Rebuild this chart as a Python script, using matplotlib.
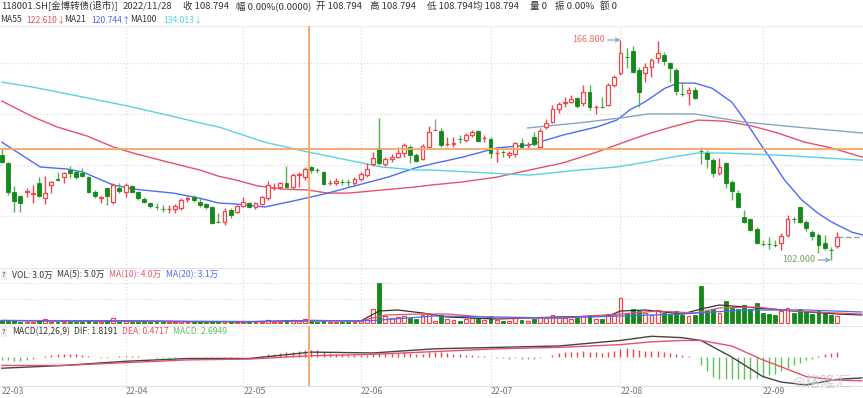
import matplotlib.pyplot as plt
import numpy as np

plt.rcParams['font.family'] = ['Noto Sans CJK SC', 'DejaVu Sans']

# ---- candle data ----
opens = [132.9, 130.6, 122.0, 120.8, 122.0, 121.4, 124.7, 120.2, 124.1, 125.8,
         126.4, 128.5, 127.9, 127.6, 126.4, 122.0, 120.2, 123.2, 119.1, 123.2,
         122.0, 123.8, 122.0, 119.9, 118.8, 117.7, 117.1, 116.9, 117.0, 117.3,
         119.9, 120.5, 119.1, 118.5, 117.6, 113.3, 113.2, 116.7, 116.1, 117.9,
         118.8, 117.6, 118.5, 120.2, 123.1, 123.5, 124.7, 123.5, 127.0, 126.4,
         129.4, 128.6, 127.9, 124.6, 124.7, 125.1, 125.1, 124.7, 125.8, 127.0,
         130.3, 135.0, 130.3, 131.7, 132.3, 133.5, 135.3, 132.9, 131.7, 135.3,
         140.3, 140.0, 136.1, 136.2, 137.7, 137.3, 138.8, 140.0, 137.8, 137.6,
         133.4, 133.9, 132.9, 133.2, 136.5, 135.8, 138.2, 135.3, 141.2, 142.6,
         146.5, 148.2, 148.5, 149.7, 148.2, 151.5, 147.0, 147.2, 147.6, 153.5,
         157.1, 161.9, 163.6, 158.0, 157.1, 158.8, 161.5, 162.4, 160.0, 158.0,
         151.0, 151.2, 152.1, 134.2, 133.5, 131.4, 127.6, 130.6, 125.0, 121.7,
         114.7, 114.1, 111.1, 106.8, 106.8, 106.5, 107.0, 109.4, 114.2, 117.6,
         113.2, 110.2, 109.4, 107.0, 105.0, 106.1]
highs = [135.0, 130.9, 123.8, 121.1, 123.2, 124.1, 126.4, 126.7, 125.3, 127.9,
         127.9, 129.7, 128.5, 129.1, 126.7, 122.6, 120.8, 123.5, 124.7, 124.7,
         124.7, 124.1, 122.3, 120.5, 119.1, 118.8, 118.2, 118.2, 118.5, 120.2,
         120.8, 121.1, 120.2, 118.8, 117.9, 115.8, 117.3, 117.3, 118.2, 120.5,
         119.1, 119.1, 120.8, 125.3, 124.7, 125.0, 129.7, 127.6, 127.9, 129.4,
         129.7, 129.1, 128.2, 125.6, 126.1, 125.8, 125.8, 126.4, 127.9, 130.6,
         133.8, 143.8, 132.3, 133.2, 135.3, 136.5, 135.9, 133.5, 136.2, 141.5,
         143.5, 140.9, 138.2, 138.2, 138.8, 139.4, 140.3, 140.3, 138.8, 138.2,
         135.0, 134.4, 134.1, 136.7, 137.9, 136.7, 139.7, 140.9, 143.5, 147.6,
         148.5, 150.0, 150.6, 150.0, 153.5, 153.5, 147.6, 150.0, 154.1, 156.5,
         166.8, 164.4, 165.0, 158.8, 160.0, 161.5, 166.5, 163.3, 160.3, 158.6,
         154.4, 152.9, 152.9, 135.3, 134.4, 132.0, 132.0, 130.9, 125.6, 122.6,
         116.7, 114.4, 111.7, 107.9, 108.8, 107.9, 109.9, 115.2, 114.7, 117.6,
         113.8, 110.8, 109.9, 109.4, 105.8, 110.2]
lows = [130.6, 121.1, 116.1, 116.1, 120.5, 118.8, 120.5, 118.5, 121.7, 125.3,
        124.7, 126.1, 125.8, 126.4, 121.7, 120.2, 118.8, 118.2, 118.5, 121.7,
        120.5, 121.7, 119.7, 118.8, 117.3, 116.7, 116.1, 115.8, 115.8, 116.7,
        119.1, 119.1, 117.6, 117.0, 112.6, 112.9, 112.3, 114.4, 115.8, 117.6,
        117.3, 117.0, 118.2, 119.7, 122.6, 122.9, 123.2, 123.2, 123.5, 125.6,
        127.6, 127.6, 124.1, 124.1, 124.1, 124.1, 123.8, 124.1, 125.3, 126.4,
        129.7, 130.0, 129.7, 130.9, 132.0, 132.3, 130.6, 130.9, 131.4, 135.0,
        140.3, 135.3, 135.6, 135.3, 136.5, 136.7, 138.2, 136.7, 136.7, 132.0,
        130.9, 132.3, 132.0, 132.3, 135.0, 135.0, 135.6, 135.0, 140.6, 142.4,
        145.3, 147.1, 148.2, 146.8, 147.4, 146.2, 145.0, 146.8, 147.4, 152.9,
        156.5, 158.6, 157.1, 147.1, 154.4, 155.9, 160.0, 159.4, 154.4, 150.6,
        150.3, 147.6, 149.4, 130.3, 129.1, 126.4, 127.0, 123.2, 119.7, 117.3,
        112.9, 110.5, 106.7, 106.1, 105.2, 105.8, 104.9, 108.8, 112.9, 112.9,
        110.5, 107.9, 104.0, 104.9, 102.0, 105.5]
closes = [130.9, 122.0, 119.4, 118.8, 122.3, 121.7, 120.8, 121.7, 125.0, 125.6,
          127.6, 127.6, 126.4, 126.7, 122.0, 120.8, 120.5, 120.8, 124.1, 122.3,
          124.1, 122.0, 120.2, 119.1, 117.9, 117.5, 116.9, 117.1, 117.9, 119.7,
          120.2, 119.7, 118.2, 117.6, 112.9, 113.1, 116.4, 115.2, 117.9, 119.1,
          117.6, 118.8, 120.5, 124.1, 123.3, 124.7, 123.5, 127.0, 127.3, 128.8,
          128.5, 128.4, 124.4, 124.8, 125.3, 124.9, 124.9, 125.8, 127.3, 128.8,
          132.0, 130.6, 131.7, 132.3, 133.5, 135.9, 132.9, 131.1, 135.6, 139.7,
          140.3, 135.9, 136.3, 136.5, 137.5, 138.8, 139.7, 137.0, 138.0, 133.5,
          133.6, 133.7, 133.5, 136.5, 135.3, 136.0, 136.2, 140.0, 142.4, 146.5,
          147.9, 148.5, 149.4, 147.4, 151.5, 147.1, 147.2, 147.0, 153.5, 155.9,
          163.0, 161.7, 157.4, 151.5, 158.8, 160.9, 163.0, 160.6, 158.6, 151.8,
          150.8, 152.1, 149.7, 134.0, 131.7, 127.6, 129.4, 124.7, 122.3, 117.6,
          113.2, 110.8, 107.0, 106.6, 106.6, 106.3, 109.1, 114.1, 114.0, 113.2,
          111.4, 109.1, 106.4, 105.5, 104.8, 108.794]

# volume, in 万
volumes = [3, 2, 2, 1.5, 1, 1, 3, 4, 1.5, 1, 1.5, 1.5, 1, 1.5, 2, 1.5, 1, 2, 5, 1.5,
           2, 1.5, 1.5, 1, 1, 1, 1, 1, 1, 2, 1, 1, 1, 1, 2.5, 1, 2, 1, 1, 1.5,
           1, 1, 1.5, 3, 1.5, 1.5, 3, 3, 2, 4, 2.5, 1.5, 3, 1, 1, 1, 1, 1.5, 2, 3,
           14, 40, 7, 5, 6, 7, 5, 4, 8, 9, 2, 8, 4, 3, 2, 4, 5, 5, 3, 7,
           3, 2, 2, 5, 3, 2, 4, 6, 5, 8, 6, 5, 4, 5, 7, 8, 4, 4, 9, 8,
           25, 10, 14, 12, 10, 8, 13, 10, 9, 12, 8, 7, 8, 37, 12, 14, 10, 22, 15, 14,
           18, 14, 20, 10, 9, 8, 12, 15, 10, 14, 11, 9, 12, 10, 8, 7]

# moving averages read at sample positions (candle index, value)
ma21_x = [0, 6.2, 10.5, 13.1, 18, 21.2, 27.7, 32, 35, 37.7, 42.5, 47.9, 52.7, 57.6, 62.4,
          66.8, 69.5, 74.5, 80, 85.3, 90.7, 96.2, 99.4, 101.5, 103.9, 107.2, 109.3, 112,
          114.8, 118, 120.1, 122.2, 124.4, 126.5, 129.3, 131.9, 134.1, 137.4, 139.1]
ma21_y = [136.7, 129.4, 128.8, 127.9, 124.1, 122.9, 121.7, 120.2, 118.8, 118.5, 117.6, 119.7,
          121.7, 124.1, 126.4, 129.1, 130.3, 132.3, 135.0, 135.9, 138.8, 141.2, 143.2, 146.2,
          148.5, 152.6, 154.1, 154.1, 152.6, 148.5, 143.2, 137.3, 131.4, 125.6, 119.7, 115.8,
          113.2, 110.2, 109.4]
ma55_x = [0, 5.1, 8.9, 13.8, 18, 21.2, 26.7, 32, 35, 37.7, 41.4, 45.3, 49.5, 52.7, 56, 61.4,
          66.8, 69.5, 74.5, 80, 85.3, 90.7, 96.2, 101.5, 104.4, 108.3, 112.5, 116.8, 121.2,
          125.4, 129.8, 134.1, 139.1]
ma55_y = [148.8, 144.1, 141.2, 138.5, 135.3, 133.5, 130.9, 128.5, 126.7, 125.6, 123.8, 122.9,
          122.6, 121.7, 121.7, 122.6, 123.5, 124.1, 125.0, 126.4, 128.5, 130.6, 133.8, 137.3,
          139.1, 141.2, 143.2, 142.9, 141.5, 139.4, 136.7, 135.0, 132.3]
ma100_x = [0, 5.1, 13.1, 20.2, 26.7, 32, 35, 42.5, 49.5, 56, 61.4, 66.8, 69.5, 78.9, 85.3,
           93.4, 99.4, 104.4, 108.3, 112.5, 116.8, 121.2, 125.4, 130.9, 139.1]
ma100_y = [154.4, 152.9, 150.0, 147.4, 144.7, 142.4, 141.2, 136.7, 133.8, 131.4, 129.4, 128.5,
           128.5, 127.6, 127.0, 128.5, 129.4, 130.9, 132.3, 133.5, 133.5, 133.2, 132.9, 132.3,
           131.4]
maL_x = [85, 93.4, 99.9, 104.4, 112, 120.1, 128.2, 139.1]
maL_y = [140.9, 142.4, 143.8, 145.0, 145.0, 142.6, 141.2, 139.4]

# volume moving averages (candle index, 万)
vma5_x = [0, 10, 20, 30, 40, 50, 58, 61, 64, 68, 72, 80, 90, 98, 100, 104, 110, 113, 116, 122, 128, 135, 139]
vma5_y = [2.5, 2, 2, 1.3, 1.3, 2.6, 2, 12, 13, 10, 6, 4, 6, 7, 12, 13, 9, 14, 18, 15, 12, 9, 8]
vma10_x = [0, 10, 20, 30, 40, 50, 58, 62, 68, 72, 80, 90, 100, 106, 112, 116, 122, 128, 135, 139]
vma10_y = [2.5, 2.2, 2, 1.4, 1.3, 2.3, 2, 8, 9, 9, 5, 5, 9, 12, 10, 15, 16, 12, 10, 9]
vma20_x = [0, 10, 20, 30, 40, 50, 60, 70, 80, 90, 100, 110, 120, 130, 139]
vma20_y = [2.5, 2.4, 2.2, 1.8, 1.5, 2, 2.5, 7, 6, 5, 7, 9, 13, 13, 11]

# MACD
dif_x = [0, 10, 20, 30, 40, 50, 60, 70, 80, 90, 100, 105, 110, 113, 118, 123, 126, 130, 135, 139]
dif_y = [-4, -3, -1.5, -0.5, -0.5, 1.8, 1.5, 3, 3.5, 4, 6, 7.5, 7, 6, 0, -7, -9, -10, -8, -7.5]
dea_x = dif_x
dea_y = [-3, -3, -2, -1, -0.7, 0.5, 1, 2, 3, 3.5, 4.5, 5.5, 6, 6, 4, -1, -3.5, -7, -8.3, -8.5]
macd_hist = [-1, -1, -1.5, -1.5, -1, -0.5, 0, 0.5, 0.8, 1, 1.2, 1.2, 1, 0.8, 0.3, 0, -0.3, -0.3, 0, 0.3,
             0.5, 0.5, 0.3, 0.2, 0, -0.2, -0.3, -0.3, -0.2, 0, 0.2, 0.2, 0, -0.2, -0.6, -0.8, -0.6, -0.5, -0.3, -0.1,
             0, 0.2, 0.5, 1, 1.2, 1.5, 1.8, 2, 2.2, 2.5, 2.7, 2.5, 2, 1.6, 1.3, 1, 0.8, 0.7, 0.7, 0.8,
             1, 1.5, 1.5, 1.5, 1.6, 1.8, 1.5, 1.2, 1.3, 1.8, 2, 1.8, 1.5, 1.2, 1, 0.8, 0.7, 0.5, 0.3, 0.1,
             -0.2, -0.4, -0.5, -0.4, -0.5, -0.5, -0.6, -0.3, 0, 0.8, 1.5, 1.8, 2, 2, 2.3, 2, 1.8, 1.5, 2, 2.3,
             3, 3.2, 3, 2.4, 2.2, 2.1, 2.3, 2, 1.6, 1, 0.6, 0.3, 0, -3, -5, -7, -8, -8, -8, -8,
             -8, -8, -7.5, -7, -6.5, -6, -5, -4, -3, -2, -1, -0.5, 0.5, 1, 1.5, 2]

month_idx = [0, 20, 39, 58, 79, 100, 123]
month_lbl = ['22-03', '22-04', '22-05', '22-06', '22-07', '22-08', '22-09']

last_close = 108.794
cross_idx = 49.6
cross_price = 134.7

RED = '#f2454a'
GREEN = '#13891a'
GREEN_W = '#55b04e'
C_MA55 = '#e8506a'
C_MA21 = '#4d6cf5'
C_MA100 = '#58d3e3'
C_MAL = '#86a3c6'
ORANGE = '#f7a661'
GRID = '#d6d6d6'

W, H = 863, 398
fig = plt.figure(figsize=(W / 100, H / 100), dpi=100)


def box(top, bottom):
    return [0, 1 - bottom / H, 1, (bottom - top) / H]


ax = fig.add_axes(box(26, 268))
axv = fig.add_axes(box(268, 324), sharex=ax)
axm = fig.add_axes(box(326, 386), sharex=ax)

n = len(closes)
idx = np.arange(n)
up = np.array(closes) >= np.array(opens)

for a in (ax, axv, axm):
    a.set_xlim(-0.3, 139.2)
    for s in a.spines.values():
        s.set_visible(False)
    a.tick_params(length=0, labelleft=False, labelbottom=False)
    for m in month_idx[1:]:
        a.axvline(m, color=GRID, lw=0.8, ls=(0, (1, 2)), zorder=0)
    a.axvline(cross_idx, color=ORANGE, lw=1.3, zorder=6)

# --- price panel ---
ax.set_ylim(99.64, 170.92)
for g in [115, 130, 145, 160]:
    ax.axhline(g, color=GRID, lw=0.8, ls=(0, (1, 2)), zorder=0)
ax.axhline(cross_price, color=ORANGE, lw=1.3, zorder=6)
ax.axhline(170.92, color='#eeeeee', lw=1)

o = np.array(opens)
c = np.array(closes)
hi = np.array(highs)
lo = np.array(lows)
body_lo = np.minimum(o, c)
body_h = np.maximum(np.abs(c - o), 0.12)
wick_col = [RED if u else GREEN_W for u in up]
wick_col[70] = C_MAL
ax.vlines(idx, lo, hi, colors=wick_col, lw=1, zorder=3)
ax.bar(idx[up], body_h[up], bottom=body_lo[up], width=0.62, facecolor='white',
       edgecolor=RED, lw=0.9, zorder=4)
ax.bar(idx[~up], body_h[~up], bottom=body_lo[~up], width=0.62, facecolor=GREEN,
       edgecolor=GREEN, lw=0.6, zorder=4)

ax.plot(ma55_x, ma55_y, color=C_MA55, lw=1, zorder=2)
ax.plot(ma21_x, ma21_y, color=C_MA21, lw=1, zorder=2)
ax.plot(ma100_x, ma100_y, color=C_MA100, lw=1, zorder=2)
ax.plot(maL_x, maL_y, color=C_MAL, lw=1, zorder=2)
ax.plot([n - 1, 139.2], [last_close, last_close], color=C_MAL, lw=1, ls=(0, (4, 2)), zorder=2)

i_hi = int(np.argmax(hi))
i_lo = int(np.argmin(lo))
ax.annotate(f'{hi[i_hi]:.3f}', xy=(i_hi, hi[i_hi]), xytext=(i_hi - 2.5, hi[i_hi]),
            ha='right', va='center', fontsize=6.5, color='#f06a60',
            arrowprops=dict(arrowstyle='->', color=C_MAL, lw=0.9, shrinkA=0, shrinkB=0))
ax.annotate(f'{lo[i_lo]:.3f}', xy=(i_lo, lo[i_lo]), xytext=(i_lo - 2.5, lo[i_lo]),
            ha='right', va='center', fontsize=6.5, color='#6aa35a',
            arrowprops=dict(arrowstyle='->', color=C_MAL, lw=0.9, shrinkA=0, shrinkB=0))

# --- volume panel ---
axv.set_ylim(-1, 55)
for g in [24, 40]:
    axv.axhline(g, color=GRID, lw=0.8, ls=(0, (1, 2)), zorder=0)
vol = np.array(volumes)
axv.bar(idx[up], vol[up], width=0.62, facecolor='white', edgecolor=RED, lw=0.9, zorder=3)
axv.bar(idx[~up], vol[~up], width=0.62, facecolor=GREEN, edgecolor=GREEN, lw=0.6, zorder=3)
axv.plot(vma5_x, vma5_y, color='#333333', lw=0.9, zorder=4)
axv.plot(vma10_x, vma10_y, color=C_MA55, lw=0.9, zorder=4)
axv.plot(vma20_x, vma20_y, color=C_MA21, lw=0.9, zorder=4)
axv.axhline(55, color='#e6e6e6', lw=0.8)

# --- MACD panel ---
axm.set_ylim(-10.4, 11.2)
hist = np.array(macd_hist)
axm.vlines(idx, 0, hist, colors=[RED if v > 0 else '#5cc05a' for v in hist], lw=1, zorder=3)
axm.plot(dif_x, dif_y, color='#444444', lw=1, zorder=4)
axm.plot(dea_x, dea_y, color=C_MA55, lw=1, zorder=4)
axm.axhline(11.2, color='#e6e6e6', lw=0.8)
axm.spines['bottom'].set_visible(True)
axm.spines['bottom'].set_color('#e0e0e0')
axm.set_xticks(month_idx)
axm.set_xticklabels(month_lbl)
axm.tick_params(labelbottom=True, labelsize=6.3, labelcolor='#777777', pad=1)
for lbl in axm.get_xticklabels():
    lbl.set_ha('left')

# --- header texts ---
def ftext(x, y, s, color='#333333', size=6.8, **kw):
    fig.text(x / W, 1 - y / H, s, color=color, fontsize=size, va='center', ha='left', **kw)


ftext(1, 6, '118001.SH[金博转债(退市)]')
ftext(123, 6, '2022/11/28')
ftext(183, 6, '收 108.794')
ftext(236, 6, '幅 0.00%(0.0000)')
ftext(316, 6, '开 108.794')
ftext(370, 6, '高 108.794')
ftext(427, 6, '低 108.794')
ftext(473, 6, '均 108.794')
ftext(530, 6, '量 0')
ftext(555, 6, '振 0.00%')
ftext(600, 6, '额 0')

S = 6.2
ftext(0, 20, 'MA55', size=S)
ftext(26, 20, '122.610↓', color=C_MA55, size=S)
ftext(64, 20, 'MA21', size=S)
ftext(91, 20, '120.744↑', color=C_MA21, size=S)
ftext(130, 20, 'MA100', size=S)
ftext(163, 20, '134.013↓', color=C_MA100, size=S)

qbox = dict(boxstyle='square,pad=0.15', fc='#eeeeee', ec='none')
ftext(2, 275, '?', size=5.5, color='#555555', bbox=qbox)
ftext(12, 275, 'VOL: 3.0万', size=S)
ftext(57, 275, 'MA(5): 5.0万', size=S)
ftext(109, 275, 'MA(10): 4.0万', color=C_MA55, size=S)
ftext(166, 275, 'MA(20): 3.1万', color=C_MA21, size=S)

ftext(2, 332, '?', size=5.5, color='#555555', bbox=qbox)
ftext(12, 332, 'MACD(12,26,9)', size=S)
ftext(74, 332, 'DIF: 1.8191', size=S)
ftext(122, 332, 'DEA: 0.4717', color=C_MA55, size=S)
ftext(173, 332, 'MACD: 2.6949', color='#5cbf5a', size=S)

fig.text(822 / W, 1 - 382 / H, '⊜格隆汇', color='#c8c8c8', fontsize=11, ha='center', va='center',
         alpha=0.8, zorder=10)

fig.savefig('out.png', dpi=100)
